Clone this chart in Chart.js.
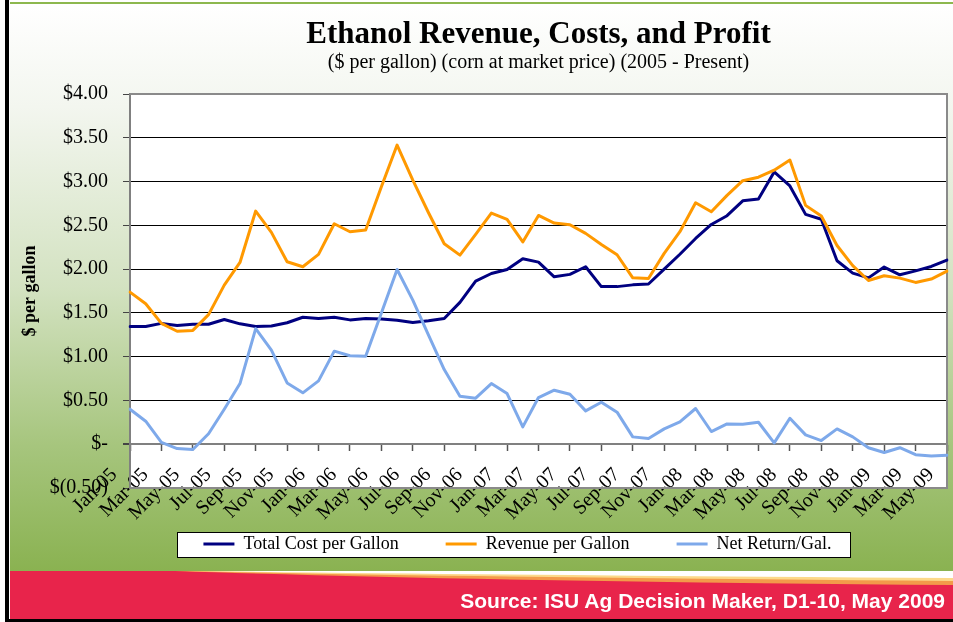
<!DOCTYPE html>
<html>
<head>
<meta charset="utf-8">
<script src="https://cdn.jsdelivr.net/npm/chart.js@4.4.1/dist/chart.umd.min.js"></script>
<style>
html,body{margin:0;padding:0;width:953px;height:622px;overflow:hidden;background:#fff;}
#bg{position:absolute;left:0;top:0;}
#c{position:absolute;left:0;top:0;}
#src{position:absolute;right:8px;top:589px;font:bold 21px 'Liberation Sans',Arial,sans-serif;color:#fff;white-space:nowrap;}
</style>
</head>
<body>
<svg id="bg" width="953" height="622" xmlns="http://www.w3.org/2000/svg">
  <defs>
    <linearGradient id="g1" x1="0" y1="0" x2="0" y2="1">
      <stop offset="0" stop-color="#ffffff"/>
      <stop offset="0.18" stop-color="#f3f6ef"/>
      <stop offset="0.5" stop-color="#d3e2c1"/>
      <stop offset="0.78" stop-color="#a6c57d"/>
      <stop offset="1" stop-color="#8ab251"/>
    </linearGradient>
  </defs>
  <rect x="0" y="0" width="953" height="622" fill="#fff"/>
  <rect x="10" y="5" width="943" height="566" fill="url(#g1)"/>
  <rect x="10" y="2" width="943" height="2" fill="#8db84f"/>
  <rect x="10" y="571" width="943" height="48" fill="#e8244b"/>
  <path d="M175,571 L953,571 L953,585 C700,583 400,579 175,571 Z" fill="#f39a4a"/>
  <path d="M185,571 L953,571 L953,581 C700,579 420,576 185,571 Z" fill="#fcd98a"/>
  <path d="M205,571 L953,571 L953,578 C700,576.5 430,574 205,571 Z" fill="#ffffff"/>
  <rect x="5" y="0" width="4" height="622" fill="#000"/>
  <rect x="5" y="619" width="948" height="3" fill="#000"/>
</svg>
<canvas id="c" width="953" height="622"></canvas>
<div id="src">Source: ISU Ag Decision Maker, D1-10, May 2009</div>
<script>
// ---- data ----
const months = [
  'Jan-05','Feb-05','Mar-05','Apr-05','May-05','Jun-05','Jul-05','Aug-05','Sep-05','Oct-05','Nov-05','Dec-05',
  'Jan-06','Feb-06','Mar-06','Apr-06','May-06','Jun-06','Jul-06','Aug-06','Sep-06','Oct-06','Nov-06','Dec-06',
  'Jan-07','Feb-07','Mar-07','Apr-07','May-07','Jun-07','Jul-07','Aug-07','Sep-07','Oct-07','Nov-07','Dec-07',
  'Jan-08','Feb-08','Mar-08','Apr-08','May-08','Jun-08','Jul-08','Aug-08','Sep-08','Oct-08','Nov-08','Dec-08',
  'Jan-09','Feb-09','Mar-09','Apr-09','May-09'
];
const totalCost = [
  1.345,1.345,1.38,1.356,1.37,1.37,1.425,1.375,1.345,1.35,1.387,1.45,
  1.436,1.45,1.42,1.436,1.43,1.417,1.39,1.41,1.436,1.62,1.863,1.95,
  1.996,2.118,2.08,1.912,1.94,2.027,1.80,1.80,1.82,1.83,2.0,2.17,
  2.35,2.51,2.61,2.78,2.80,3.11,2.95,2.625,2.57,2.095,1.954,1.90,
  2.023,1.935,1.98,2.03,2.103
];
const revenue = [
  1.737,1.604,1.38,1.29,1.30,1.48,1.817,2.076,2.663,2.42,2.084,2.027,
  2.168,2.518,2.427,2.446,2.94,3.417,3.017,2.644,2.29,2.16,2.396,2.64,
  2.568,2.31,2.613,2.526,2.507,2.408,2.282,2.164,1.90,1.893,2.18,2.427,
  2.758,2.655,2.842,3.01,3.05,3.13,3.246,2.728,2.606,2.27,2.04,1.87,
  1.924,1.897,1.848,1.886,1.977
];
const netReturn = [
  0.40,0.263,0.02,-0.05,-0.06,0.12,0.40,0.693,1.32,1.074,0.70,0.587,
  0.724,1.063,1.01,1.006,1.50,1.996,1.646,1.246,0.853,0.549,0.526,0.693,
  0.579,0.198,0.533,0.617,0.571,0.381,0.48,0.366,0.084,0.065,0.175,0.255,
  0.408,0.145,0.232,0.229,0.251,0.015,0.297,0.107,0.042,0.175,0.084,-0.04,
  -0.095,-0.04,-0.12,-0.135,-0.125
];
const seriesNames = ['Total Cost per Gallon','Revenue per Gallon','Net Return/Gal.'];
const yTickValues = [-0.5,0,0.5,1,1.5,2,2.5,3,3.5,4];
const yTickLabels = ['$(0.50)','$-','$0.50','$1.00','$1.50','$2.00','$2.50','$3.00','$3.50','$4.00'];

// ---- plugins ----
const plotFrame = {
  id: 'plotFrame',
  beforeDraw(chart) {
    const {ctx, chartArea: a} = chart;
    ctx.save();
    ctx.fillStyle = '#ffffff';
    ctx.fillRect(a.left, a.top, a.right - a.left, a.bottom - a.top);
    ctx.restore();
  },
  beforeDatasetsDraw(chart) {
    const {ctx, chartArea: a} = chart;
    ctx.save();
    ctx.strokeStyle = '#8a8a8a';
    ctx.lineWidth = 2;
    ctx.beginPath();
    ctx.moveTo(a.left, a.top); ctx.lineTo(a.right, a.top);
    ctx.lineTo(a.right, a.bottom); ctx.lineTo(a.left, a.bottom);
    ctx.stroke();
    ctx.restore();
  },
  afterLayout(chart) {
    const lg = chart.legend;
    if (lg) { lg.left -= 21; lg.right -= 21; }
  },
  afterDraw(chart) {
    const lg = chart.legend;
    if (!lg || !lg.legendHitBoxes || !lg.legendHitBoxes.length) return;
    const hb = lg.legendHitBoxes;
    const first = hb[0], last = hb[hb.length - 1];
    const cy = first.top + first.height / 2;
    const ctx = chart.ctx;
    const x0 = Math.round(first.left - 26) + 0.5, x1 = Math.round(last.left + last.width + 18) + 0.5;
    const y0 = Math.round(cy - 12.5) + 0.5, y1 = Math.round(cy + 12.5) + 0.5;
    ctx.save();
    ctx.globalCompositeOperation = 'destination-over';
    ctx.fillStyle = '#ffffff';
    ctx.fillRect(x0, y0, x1 - x0, y1 - y0);
    ctx.restore();
    ctx.save();
    ctx.strokeStyle = '#000';
    ctx.lineWidth = 1;
    ctx.strokeRect(x0, y0, x1 - x0, y1 - y0);
    ctx.restore();
  }
};

Chart.defaults.font.family = "'Liberation Serif', 'Times New Roman', serif";
Chart.defaults.color = '#000';

// later series drawn on top (lower order = drawn last)
const lineDs = (label, data, color, order) => ({
  label, data, order,
  borderColor: color, backgroundColor: color,
  borderWidth: 3, pointRadius: 0, pointHoverRadius: 0,
  tension: 0, fill: false,
  borderJoinStyle: 'round', borderCapStyle: 'round'
});

new Chart(document.getElementById('c'), {
  type: 'line',
  data: {
    labels: months,
    datasets: [
      lineDs(seriesNames[0], totalCost, '#000080', 2),
      lineDs(seriesNames[1], revenue, '#FF9900', 1),
      lineDs(seriesNames[2], netReturn, '#7EA9EA', 0)
    ]
  },
  options: {
    responsive: false,
    animation: false,
    devicePixelRatio: 1,
    layout: { padding: { left: 0, right: 6, top: 0, bottom: 59 } },
    plugins: {
      title: {
        display: true, fullSize: false,
        text: 'Ethanol Revenue, Costs, and Profit',
        font: { size: 31, weight: 'bold', lineHeight: 1.0 },
        padding: { top: 19, bottom: 0 }
      },
      subtitle: {
        display: true, fullSize: false,
        text: '($ per gallon) (corn at market price) (2005 - Present)',
        font: { size: 20, lineHeight: 1.0 },
        padding: { top: 3, bottom: 21 }
      },
      legend: {
        display: true, position: 'bottom', fullSize: false,
        labels: {
          usePointStyle: true, pointStyle: 'line', pointStyleWidth: 31,
          font: { size: 18 }, padding: 47, color: '#000',
          sort: (a, b) => a.datasetIndex - b.datasetIndex
        }
      },
      tooltip: { enabled: false }
    },
    scales: {
      x: {
        type: 'category',
        position: { y: 0 },
        afterBuildTicks: (s) => { s.ticks = s.ticks.filter((t, i) => i % 2 === 0); },
        afterFit: (s) => { s.height = 0; s.paddingLeft = 0; s.paddingRight = 0; },
        grid: { drawOnChartArea: false, drawTicks: true, tickLength: 6, tickColor: '#555', tickWidth: 1.5 },
        border: { display: true, color: '#808080', width: 2 },
        ticks: {
          autoSkip: false, minRotation: 45, maxRotation: 45,
          padding: 13, labelOffset: -16,
          font: { size: 20 }, color: '#000'
        }
      },
      y: {
        min: -0.5, max: 4,
        afterBuildTicks: (s) => { s.ticks = yTickValues.map(v => ({ value: v })); },
        afterFit: (s) => { s.width = 130; },
        grid: {
          color: (c) => (c.tick && (c.tick.value === 0 || c.tick.value === 4 || c.tick.value === -0.5)) ? '#808080' : '#000',
          lineWidth: (c) => (c.tick && c.tick.value === 0) ? 2 : 1,
          tickLength: 7, tickColor: '#444', drawTicks: true
        },
        border: { display: true, color: '#808080', width: 2 },
        ticks: {
          padding: 15,
          font: { size: 20 }, color: '#000',
          callback: (v) => { const i = yTickValues.indexOf(v); return i >= 0 ? yTickLabels[i] : ''; }
        },
        title: {
          display: true, text: '$ per gallon',
          font: { size: 18, weight: 'bold', lineHeight: 1.0 },
          padding: { top: 21, bottom: 0 }
        }
      }
    }
  },
  plugins: [plotFrame]
});
</script>
</body>
</html>
